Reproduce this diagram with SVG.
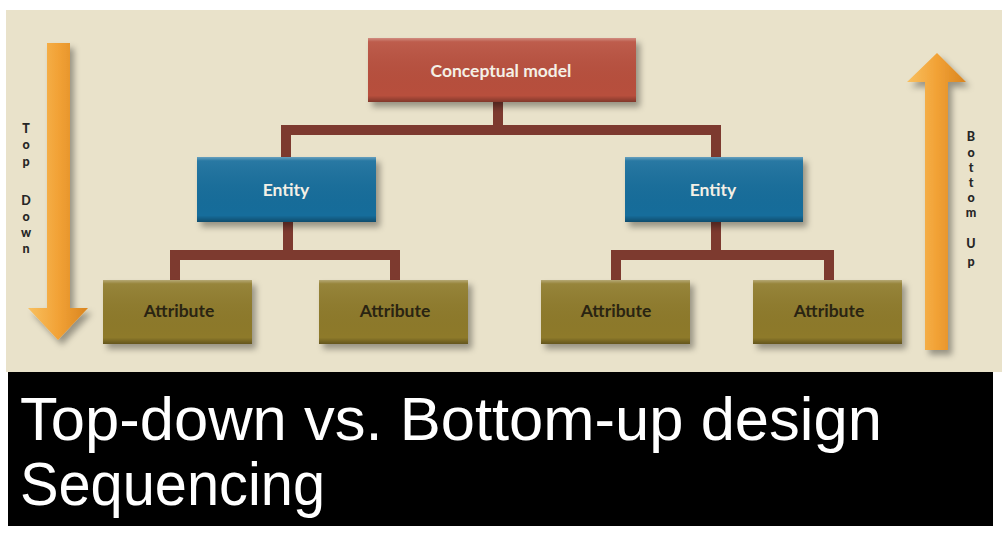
<svg xmlns="http://www.w3.org/2000/svg" width="1002" height="538" viewBox="0 0 1002 538">
<defs>
<style>
.lbl{font-family:Lato,"Open Sans","Liberation Sans",sans-serif;font-weight:bold;font-size:17.5px;text-anchor:middle}
.w{fill:#f4f0e6}
.d{fill:#2a2412}
.v{font-family:Lato,"DejaVu Sans",sans-serif;font-weight:900;font-size:12.5px;fill:#262626;text-anchor:middle}
.conn{fill:none;stroke:#7d3a2f;stroke-width:10;stroke-linejoin:miter}
.title{font-family:"Liberation Sans",Arial,sans-serif;font-size:62px;fill:#ffffff}
</style>
<filter id="sh" x="-10%" y="-10%" width="130%" height="140%">
<feDropShadow dx="4" dy="5" stdDeviation="3" flood-color="#000" flood-opacity="0.35"/>
</filter>
<linearGradient id="bevel" x1="0" y1="0" x2="0" y2="1">
<stop offset="0" stop-color="#fff" stop-opacity="0.35"/>
<stop offset="0.06" stop-color="#fff" stop-opacity="0.08"/>
<stop offset="0.9" stop-color="#000" stop-opacity="0"/>
<stop offset="1" stop-color="#000" stop-opacity="0.3"/>
</linearGradient>
<linearGradient id="orH" x1="0" y1="0" x2="1" y2="0">
<stop offset="0" stop-color="#f8c060"/>
<stop offset="0.5" stop-color="#f2a236"/>
<stop offset="1" stop-color="#d98520"/>
</linearGradient>
</defs>
<rect x="0" y="0" width="1002" height="538" fill="#ffffff"/>
<rect x="6" y="10" width="996" height="362" fill="#e9e2ca"/>

<g id="arrow-topdown" filter="url(#sh)">
<path d="M47,43 L70,43 L70,308 L88,308 L58,340 L28,308 L47,308 Z" fill="url(#orH)"/>
</g>
<g id="arrow-bottomup" filter="url(#sh)">
<path d="M925,350 L948,350 L948,82 L966,82 L937,53 L907,82 L925,82 Z" fill="url(#orH)"/>
</g>
<g id="label-topdown">
<text class="v" x="26" y="133">T</text>
<text class="v" x="26" y="149">o</text>
<text class="v" x="26" y="166">p</text>
<text class="v" x="26" y="205">D</text>
<text class="v" x="26" y="221">o</text>
<text class="v" x="26" y="237">w</text>
<text class="v" x="26" y="253">n</text>
</g>
<g id="label-bottomup">
<text class="v" x="971" y="141">B</text>
<text class="v" x="971" y="157">o</text>
<text class="v" x="971" y="172">t</text>
<text class="v" x="971" y="187">t</text>
<text class="v" x="971" y="202">o</text>
<text class="v" x="971" y="217">m</text>
<text class="v" x="971" y="248">U</text>
<text class="v" x="971" y="266">p</text>
</g>

<g id="connectors">
<path class="conn" d="M498,102 V130 M286,157 V130 H716 V157"/>
<path class="conn" d="M288,222 V255 M175,280 V255 H395 V280"/>
<path class="conn" d="M716,222 V255 M616,280 V255 H829 V280"/>
</g>

<g id="node-conceptual">
<rect x="368" y="38" width="268" height="64" fill="#b8503e" filter="url(#sh)"/>
<rect x="368" y="38" width="268" height="64" fill="url(#bevel)"/>
<text class="lbl w" x="501" y="77">Conceptual model</text>
</g>
<g id="node-entity-1">
<rect x="197" y="157" width="179" height="65" fill="#146d9b" filter="url(#sh)"/>
<rect x="197" y="157" width="179" height="65" fill="url(#bevel)"/>
<text class="lbl w" x="286" y="196">Entity</text>
</g>
<g id="node-entity-2">
<rect x="625" y="157" width="178" height="65" fill="#146d9b" filter="url(#sh)"/>
<rect x="625" y="157" width="178" height="65" fill="url(#bevel)"/>
<text class="lbl w" x="713" y="196">Entity</text>
</g>
<g id="node-attr-1">
<rect x="103" y="280" width="149" height="64" fill="#8e7a2a" filter="url(#sh)"/>
<rect x="103" y="280" width="149" height="64" fill="url(#bevel)"/>
<text class="lbl d" x="179" y="317">Attribute</text>
</g>
<g id="node-attr-2">
<rect x="319" y="280" width="149" height="64" fill="#8e7a2a" filter="url(#sh)"/>
<rect x="319" y="280" width="149" height="64" fill="url(#bevel)"/>
<text class="lbl d" x="395" y="317">Attribute</text>
</g>
<g id="node-attr-3">
<rect x="541" y="280" width="149" height="64" fill="#8e7a2a" filter="url(#sh)"/>
<rect x="541" y="280" width="149" height="64" fill="url(#bevel)"/>
<text class="lbl d" x="616" y="317">Attribute</text>
</g>
<g id="node-attr-4">
<rect x="753" y="280" width="149" height="64" fill="#8e7a2a" filter="url(#sh)"/>
<rect x="753" y="280" width="149" height="64" fill="url(#bevel)"/>
<text class="lbl d" x="829" y="317">Attribute</text>
</g>

<g id="title">
<rect x="8" y="372" width="985" height="154" fill="#000000"/>
<text class="title" x="20" y="440" textLength="862" lengthAdjust="spacingAndGlyphs">Top-down vs. Bottom-up design</text>
<text class="title" x="20" y="505" textLength="305" lengthAdjust="spacingAndGlyphs">Sequencing</text>
</g>
</svg>
